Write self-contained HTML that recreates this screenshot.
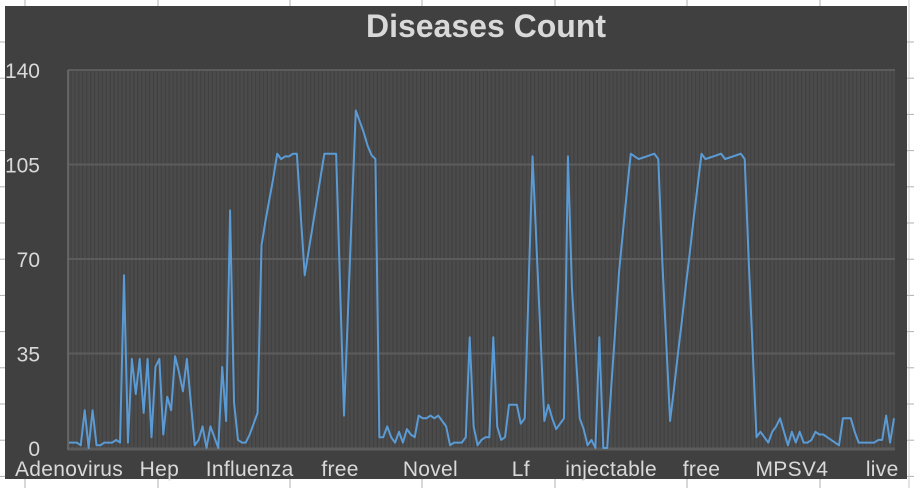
<!DOCTYPE html>
<html><head><meta charset="utf-8">
<style>
html,body{margin:0;padding:0;background:#fff;width:914px;height:488px;overflow:hidden}
svg{display:block}
text{font-family:"Liberation Sans",sans-serif}
</style></head>
<body>
<svg id="chart" width="914" height="488" xmlns="http://www.w3.org/2000/svg">
  <g id="sheet"></g>
  <rect x="5" y="6" width="902" height="473" fill="#404040"/>
  <text x="486" y="37" text-anchor="middle" font-size="32" font-weight="bold" fill="#d9d9d9">Diseases Count</text>
  <g id="plot"></g>
</svg>
<script>
const values = [2,2,2,1,14,0,14,1,1,2,2,2,3,2,64,2,33,20,33,13,33,4,30,33,5,19,14,34,28,21,33,17,1,3,8,0,8,4,0,30,10,88,17,3,2,2,5,9,13,75,84,92,100,109,107,108,108,109,109,86,64,73,82,91,100,109,109,109,109,60,12,50,88,125,121,117,112,108.5,107,4,4,8,4,2,6,2,7,5,4,12,11,11,12,11,12,10,8,1,2,2,2,4,41,8,1,3,4,4,41,8,3,4,16,16,16,9,11,60,108,75,42,10,16,11,7,9,11,108,60,35,11,7,1,3,0,41,0,0,22,43,65,80,95,109,108,107,107.5,108,108.5,109,107,70,40,10,22,35,47,60,72,85,97,109,107,107.5,108,108.5,109,107,107.5,108,108.5,109,107,70,37,4,6,4,2,6,8,11,6,1,6,2,6,2,2,3,6,5,5,4,3,2,1,11,11,11,6,2,2,2,2,2,3,3,12,2,11];
const labelIdx = [0,23,46,69,92,115,138,161,184,207];
const labelText = ["Adenovirus","Hep","Influenza","free","Novel","Lf","injectable","free","MPSV4","live"];
const yTicks = [0,35,70,105,140];

const NS="http://www.w3.org/2000/svg";
const X0=69, X1=894, Y0=448, Y1=70, YMAX=140;
const n=values.length;
const step=(X1-X0)/(n-1);
const xs=i=>X0+i*step;
const ys=v=>Y0-(v/YMAX)*(Y0-Y1);
function mk(tag,attrs,parent){const e=document.createElementNS(NS,tag);for(const k in attrs)e.setAttribute(k,attrs[k]);parent.appendChild(e);return e;}

const sheet=document.getElementById('sheet');
[25,158,290,422,555,687,820].forEach(x=>{mk('line',{x1:x,y1:0,x2:x,y2:6,stroke:'#b0b0b0','stroke-width':1},sheet);mk('line',{x1:x,y1:479,x2:x,y2:488,stroke:'#b0b0b0','stroke-width':1},sheet);});
for(let y=42;y<488;y+=36.2){mk('line',{x1:0,y1:y,x2:5,y2:y,stroke:'#b0b0b0','stroke-width':1},sheet);mk('line',{x1:907,y1:y,x2:914,y2:y,stroke:'#b0b0b0','stroke-width':1},sheet);}
mk('line',{x1:909,y1:0,x2:909,y2:488,stroke:'#c8c8c8','stroke-width':1},sheet);

const plot=document.getElementById('plot');
const bg=mk('rect',{x:X0-1,y:Y1,width:X1-X0+2,height:Y0-Y1,fill:'#4b4b4b'},plot);


for(let i=0;i<n;i++){
  const l=mk('line',{x1:xs(i)+step/2,y1:Y1,x2:xs(i)+step/2,y2:Y0,stroke:'#414141','stroke-width':1.2},plot);
  
  
}
yTicks.forEach(t=>{
  if(t>0){const g=mk('line',{x1:X0-1,y1:ys(t),x2:X1+1,y2:ys(t),stroke:'#5c5c5c','stroke-width':2},plot);
  
  }
  const tx=mk('text',{x:40,y:ys(t)+8,'text-anchor':'end','font-size':21,fill:'#d9d9d9'},plot);
  tx.textContent=t;
  
  
});
const ax=mk('line',{x1:X0-1,y1:Y0+1,x2:X1+1,y2:Y0+1,stroke:'#5c5c5c','stroke-width':3},plot);


const ay=mk('line',{x1:X0-1,y1:Y1,x2:X0-1,y2:Y0+2,stroke:'#6e6e6e','stroke-width':1.5},plot);


labelIdx.forEach((ix,k)=>{
  const tx=mk('text',{x:xs(ix),y:476,'text-anchor':'middle','font-size':21,'letter-spacing':0.3,fill:'#d9d9d9'},plot);
  tx.textContent=labelText[k];
  
  
});
const pts=values.map((v,i)=>xs(i).toFixed(2)+','+ys(v).toFixed(2)).join(' ');
const line=mk('polyline',{points:pts,fill:'none',stroke:'#5b9bd5','stroke-width':2,'stroke-linejoin':'round'},plot);


</script>
</body></html>
